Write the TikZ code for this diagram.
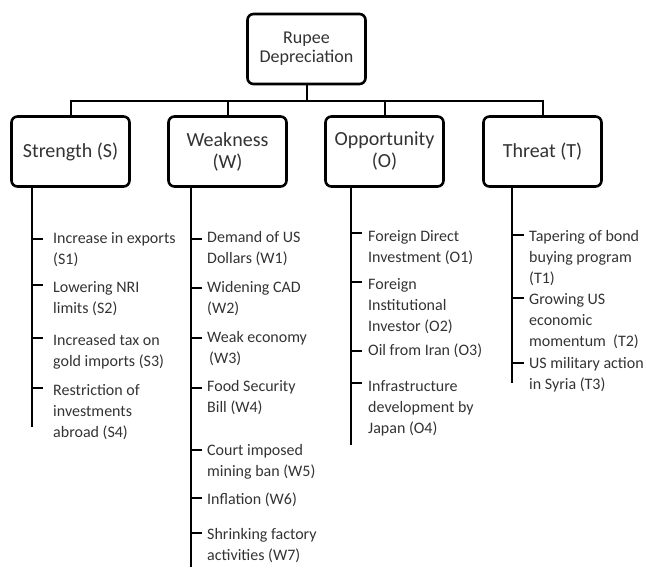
\documentclass[tikz,border=0pt]{standalone}
\usepackage{fontspec}
\setmainfont{Carlito}
\usetikzlibrary{positioning,calc}
\definecolor{txtgray}{HTML}{333333}
\tikzset{
  box/.style={draw,line width=2.6pt,rounded corners=6pt,fill=white,minimum width=118pt,minimum height=70pt,align=center,text=txtgray,font=\fontsize{20}{22}\selectfont},
  link/.style={line width=2pt},
  item/.style={anchor=north west,inner sep=0pt,align=left,text=txtgray,font=\fontsize{16}{21}\selectfont},
}

\begin{document}
\begin{tikzpicture}[x=1pt,y=-1pt]
  \useasboundingbox (0,0) rectangle (647,567);
  % top of the tree
  \node[box,font=\fontsize{18}{19}\selectfont] (root) at (306.5,49) {Rupee\\Depreciation};
  \node[box] (s) at (70.5,151.5) {Strength (S)};
  \node[box] (w) at (227.5,151.5) {Weakness\\(W)};
  \node[box] (o) at (384.5,151.5) {Opportunity\\(O)};
  \node[box] (t) at (542.5,151.5) {Threat (T)};
  \coordinate (bus) at (306.5,101);
  \draw[link] (root) -- (bus);
  \draw[link] (s.north) -- (s.north |- bus) -- (t.north |- bus) -- (t.north);
  \draw[link] (w.north) -- (w.north |- bus);
  \draw[link] (o.north) -- (o.north |- bus);
  % stems under the boxes
  \coordinate (sEnd) at (32,427);
  \coordinate (wEnd) at (191,567);
  \coordinate (oEnd) at (351,445);
  \coordinate (tEnd) at (512,383);
  \draw[link] (sEnd |- s.south) -- (sEnd);
  \draw[link] (wEnd |- w.south) -- (wEnd);
  \draw[link] (oEnd |- o.south) -- (oEnd);
  \draw[link] (tEnd |- t.south) -- (tEnd);
  % strengths
  \foreach \n/\ty/\y/\txt in {1/239/239/{Increase in exports\\(S1)},2/285/288/{Lowering NRI\\limits (S2)},3/338/341/{Increased tax on\\gold imports (S3)},4/388/391/{Restriction of\\investments\\abroad (S4)}}{
    \coordinate (S\n) at (32,\ty);
    \node[item] (s\n) at (53,\y-7) {\txt};
    \draw[link,shorten >=10pt] (S\n) -- (S\n -| s\n.west);
  }
  % weaknesses
  \foreach \n/\ty/\y/\txt in {1/239/238/{Demand of US\\Dollars (W1)},2/288/288/{Widening CAD\\(W2)},3/338/338/{Weak economy\\\hspace*{2pt}(W3)},4/388/387/{Food Security\\Bill (W4)},5/450/451/{Court imposed\\mining ban (W5)},6/498/500/{Inflation (W6)},7/533/535/{Shrinking factory\\activities (W7)}}{
    \coordinate (W\n) at (191,\ty);
    \node[item] (w\n) at (207,\y-7) {\txt};
    \draw[link,shorten >=5pt] (W\n) -- (W\n -| w\n.west);
  }
  % opportunities
  \foreach \n/\ty/\y/\txt in {1/233/237/{Foreign Direct\\Investment (O1)},2/282/285/{Foreign\\Institutional\\Investor (O2)},3/351/351/{Oil from Iran (O3)},4/383/387/{Infrastructure\\development by\\Japan (O4)}}{
    \coordinate (O\n) at (351,\ty);
    \node[item] (o\n) at (368,\y-7) {\txt};
    \draw[link,shorten >=6pt] (O\n) -- (O\n -| o\n.west);
  }
  % threats
  \foreach \n/\ty/\y/\txt in {1/235/237/{Tapering of bond\\buying program\\(T1)},2/298/300/{Growing US\\economic\\momentum~ (T2)},3/363/364/{US military action\\in Syria (T3)}}{
    \coordinate (T\n) at (512,\ty);
    \node[item] (t\n) at (529,\y-7) {\txt};
    \draw[link,shorten >=5pt] (T\n) -- (T\n -| t\n.west);
  }
\end{tikzpicture}
\end{document}
